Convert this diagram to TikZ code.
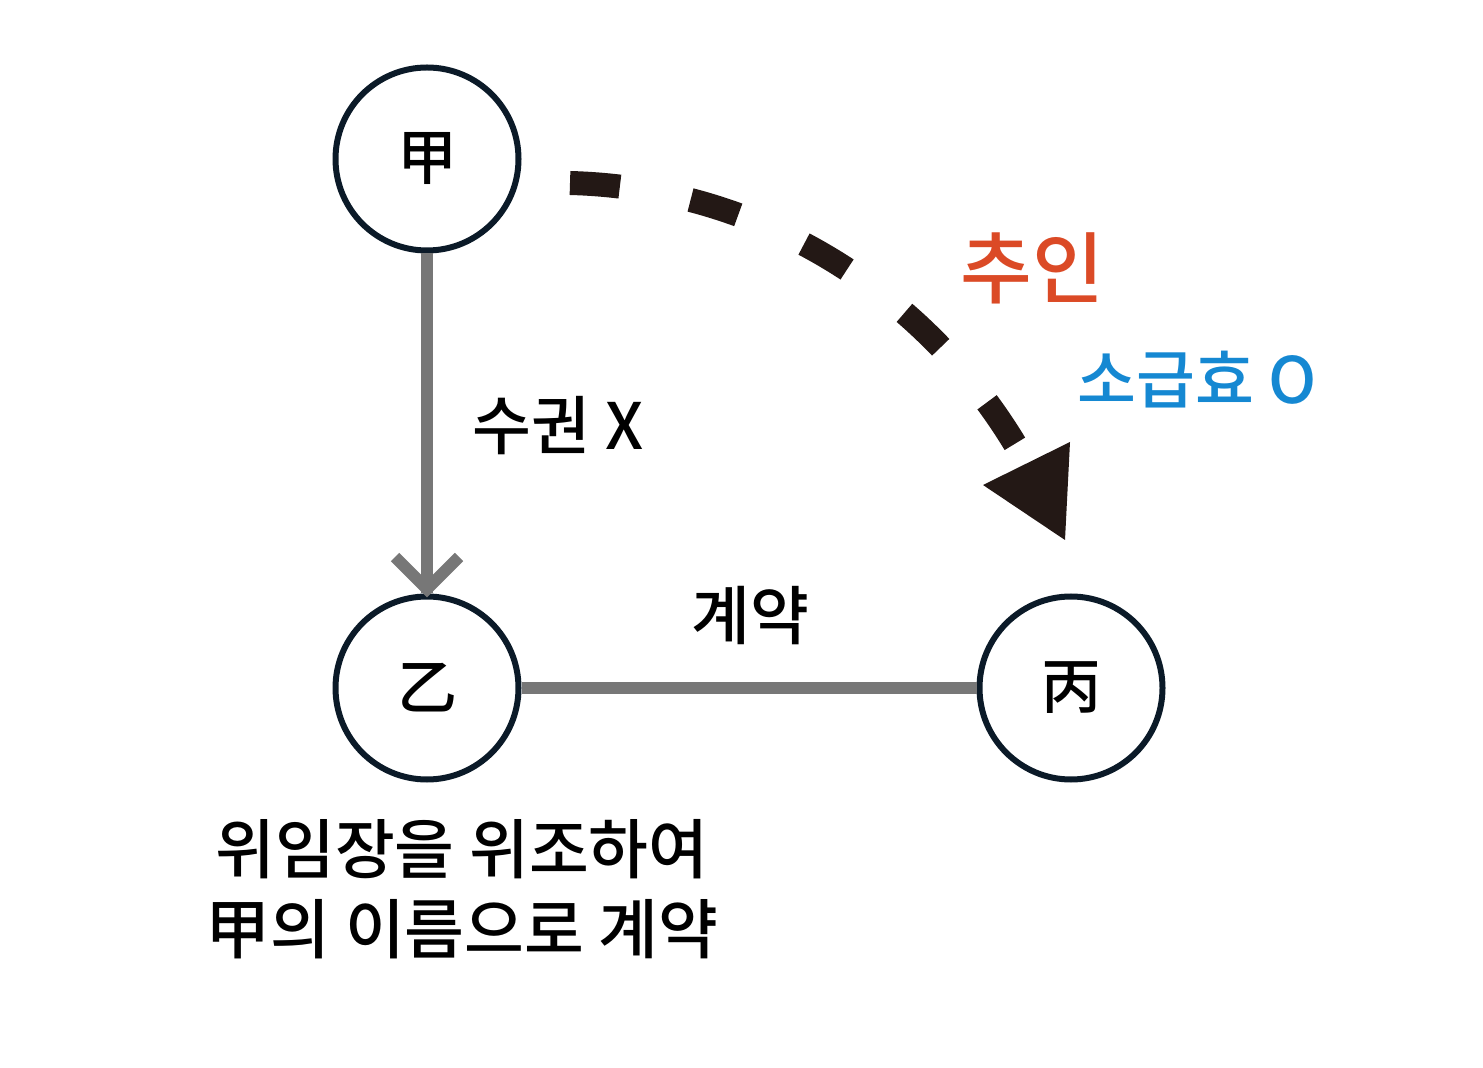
\documentclass[tikz,border=0pt]{standalone}
\usepackage{fontspec}
\setmainfont{Noto Sans CJK KR Medium}
\usetikzlibrary{calc}
\definecolor{navy}{HTML}{0B1A28}
\definecolor{linegray}{HTML}{777777}
\definecolor{dashink}{HTML}{231815}
\definecolor{orng}{HTML}{DB4A26}
\definecolor{skyb}{HTML}{1588D2}
\begin{document}
\begin{tikzpicture}[x=0.5pt,y=-0.5pt,
  party/.style={circle, draw=navy, line width=3pt, minimum size=91.5pt, inner sep=0pt, font=\fontsize{30}{36}\selectfont},
  grayline/.style={draw=linegray, line width=6pt},
  lbl/.style={font=\fontsize{32}{40}\selectfont, inner sep=0pt},
  dashcurve/.style={draw=dashink, line width=12pt, dash pattern=on 25pt off 36pt}]
\useasboundingbox (0,0) rectangle (1483,1068);
\node[party] (jia) at (427,159) {甲};
\node[party] (yi) at (427,688) {乙};
\node[party] (bing) at (1071,688) {丙};
% authorization arrow
\draw[grayline] (jia.south) -- (yi.north);
\coordinate (tip) at ($(yi.north)+(0,-4.5)$);
\draw[grayline, line join=miter] ($(tip)+(-32,-32)$) -- (tip) -- ($(tip)+(32,-32)$);
% contract line
\draw[grayline] (yi.east) -- (bing.west);
% ratification curve
\coordinate (cs) at (570,183);
\coordinate (ce) at (1018,449);
\draw[dashcurve] (cs) .. controls (760,188) and (925,292) .. (ce);
\coordinate (t1) at (983,485);
\coordinate (t2) at (1070,442);
\coordinate (t3) at (1065,540);
\fill[dashink] (t1) -- (t2) -- (t3) -- cycle;
% labels
\node[lbl] (sg) at (558,426) {수권 X};
\node[lbl] (gy) at (750,616) {계약};
\node[lbl, font=\fontsize{39}{46}\selectfont, text=orng] (ci) at (1032,268) {추인};
\node[lbl, font=\fontsize{32}{38}\selectfont, text=skyb] (sgh) at (1197,380) {소급효 O};
\node[lbl, align=center, font=\fontsize{32.5}{40}\selectfont] (note) at (462,889) {위임장을 위조하여\\甲의 이름으로 계약};
\end{tikzpicture}
\end{document}
